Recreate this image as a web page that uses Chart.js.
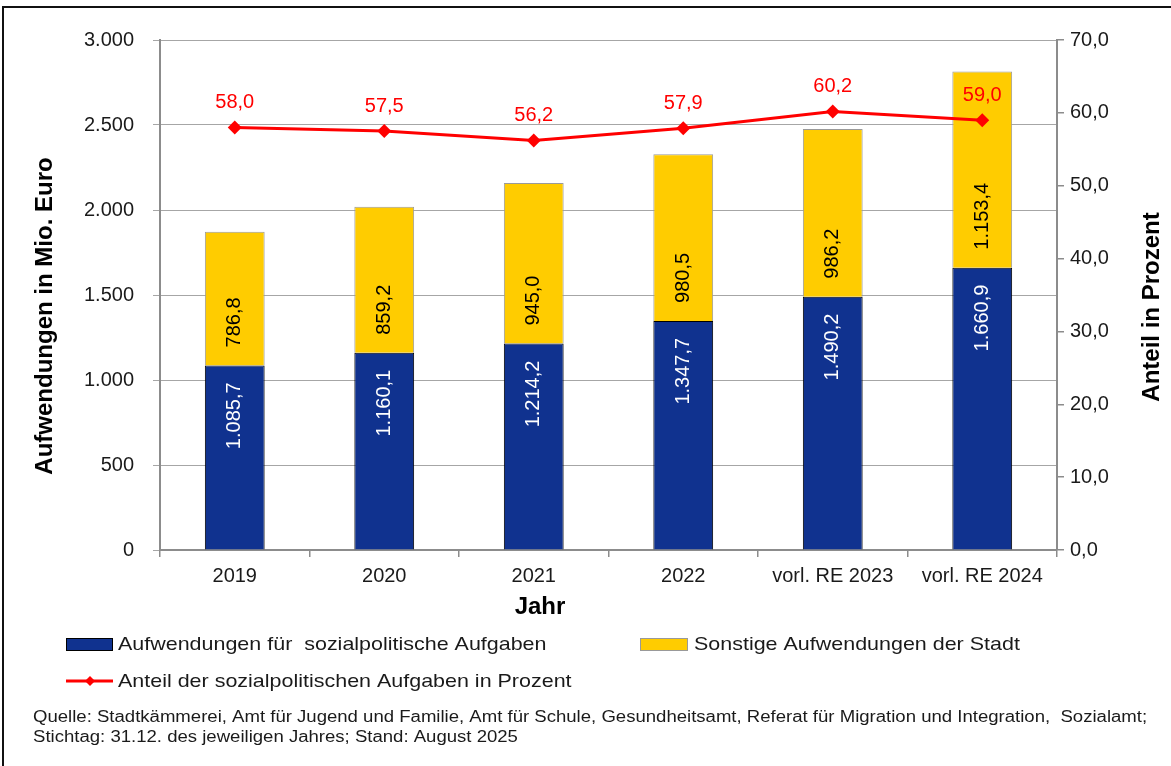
<!DOCTYPE html>
<html>
<head>
<meta charset="utf-8">
<script src="https://cdn.jsdelivr.net/npm/chart.js@4.4.1/dist/chart.umd.min.js"></script>
<style>
  html, body { margin: 0; padding: 0; background: #fff; }
  #wrap { width: 1171px; height: 766px; position: relative; }
  canvas { display: block; }
</style>
</head>
<body>
<div id="wrap"><canvas id="c" width="1171" height="766"></canvas></div>
<script>
const categories = ['2019', '2020', '2021', '2022', 'vorl. RE 2023', 'vorl. RE 2024'];
const sozialValues = [1085.7, 1160.1, 1214.2, 1347.7, 1490.2, 1660.9];
const sonstigeValues = [786.8, 859.2, 945.0, 980.5, 986.2, 1153.4];
const anteilValues = [58.0, 57.5, 56.2, 57.9, 60.2, 59.0];
const leftTicks = [0, 500, 1000, 1500, 2000, 2500, 3000];
const rightTicks = [0, 10, 20, 30, 40, 50, 60, 70];

const seriesNames = [
  'Aufwendungen für  sozialpolitische Aufgaben',
  'Sonstige Aufwendungen der Stadt',
  'Anteil der sozialpolitischen Aufgaben in Prozent'
];
const sourceLines = [
  'Quelle: Stadtkämmerei, Amt für Jugend und Familie, Amt für Schule, Gesundheitsamt, Referat für Migration und Integration,  Sozialamt;',
  'Stichtag: 31.12. des jeweiligen Jahres; Stand: August 2025'
];

const FONT = '"Liberation Sans", Arial, sans-serif';
const BLUE = '#10328F';
const YELLOW = '#FFCC00';
const RED = '#FF0000';
const TXT = '#1a1a1a';

function deNum(v, dec) {
  const neg = v < 0;
  let s = Math.abs(v).toFixed(dec);
  let [i, f] = s.split('.');
  i = i.replace(/\B(?=(\d{3})+(?!\d))/g, '.');
  return (neg ? '-' : '') + i + (f !== undefined ? ',' + f : '');
}

// draw text with horizontal stretch factor sx
function stretchText(ctx, str, x, y, font, sx, color) {
  ctx.save();
  ctx.font = font;
  ctx.fillStyle = color;
  ctx.textAlign = 'left';
  ctx.textBaseline = 'middle';
  ctx.translate(x, y);
  ctx.scale(sx, 1);
  ctx.fillText(str, 0, 0);
  ctx.restore();
}

const decorPlugin = {
  id: 'decor',
  beforeDraw(chart) {
    const ctx = chart.ctx;
    ctx.save();
    ctx.fillStyle = '#fff';
    ctx.fillRect(0, 0, chart.width, chart.height);
    ctx.restore();
  },
  afterDatasetsDraw(chart) {
    const ctx = chart.ctx;
    ctx.save();
    ctx.font = '20px ' + FONT;
    ctx.textBaseline = 'middle';
    const m0 = chart.getDatasetMeta(0);
    m0.data.forEach((bar, j) => {
      ctx.save();
      ctx.fillStyle = '#ffffff';
      ctx.translate(bar.x, bar.y + 17);
      ctx.rotate(-Math.PI / 2);
      ctx.textAlign = 'right';
      ctx.fillText(deNum(sozialValues[j], 1), 0, 0);
      ctx.restore();
    });
    const m1 = chart.getDatasetMeta(1);
    m1.data.forEach((bar, j) => {
      ctx.save();
      ctx.fillStyle = '#000000';
      ctx.translate(bar.x, bar.base - 18);
      ctx.rotate(-Math.PI / 2);
      ctx.textAlign = 'left';
      ctx.fillText(deNum(sonstigeValues[j], 1), 0, 0);
      ctx.restore();
    });
    ctx.restore();
  },
  afterDraw(chart) {
    const ctx = chart.ctx;
    ctx.save();
    const m2 = chart.getDatasetMeta(2);
    ctx.font = '20px ' + FONT;
    ctx.fillStyle = RED;
    ctx.textAlign = 'center';
    ctx.textBaseline = 'middle';
    m2.data.forEach((pt, j) => {
      ctx.fillText(deNum(anteilValues[j], 1), pt.x, pt.y - 25);
    });
    ctx.restore();

    // axis titles
    ctx.save();
    ctx.fillStyle = '#000';
    ctx.font = 'bold 24px ' + FONT;
    ctx.textAlign = 'center';
    ctx.textBaseline = 'middle';
    ctx.save();
    ctx.translate(45, 316);
    ctx.rotate(-Math.PI / 2);
    ctx.fillText('Aufwendungen in Mio. Euro', 0, 0);
    ctx.restore();
    ctx.save();
    ctx.translate(1152, 307);
    ctx.rotate(-Math.PI / 2);
    ctx.fillText('Anteil in Prozent', 0, 0);
    ctx.restore();
    ctx.fillText('Jahr', 540, 607);
    ctx.restore();

    // legend
    ctx.save();
    ctx.fillStyle = BLUE;
    ctx.fillRect(66, 638, 47, 13);
    ctx.strokeStyle = '#000';
    ctx.lineWidth = 1;
    ctx.strokeRect(66.5, 638.5, 46, 12);
    ctx.fillStyle = YELLOW;
    ctx.fillRect(640, 638, 48, 13);
    ctx.strokeStyle = '#999';
    ctx.strokeRect(640.5, 638.5, 47, 12);
    ctx.strokeStyle = RED;
    ctx.lineWidth = 3;
    ctx.beginPath();
    ctx.moveTo(66, 681);
    ctx.lineTo(113, 681);
    ctx.stroke();
    ctx.fillStyle = RED;
    ctx.beginPath();
    ctx.moveTo(90, 676); ctx.lineTo(95, 681); ctx.lineTo(90, 686); ctx.lineTo(85, 681);
    ctx.closePath();
    ctx.fill();
    ctx.restore();
    const lf = '19px ' + FONT;
    stretchText(ctx, seriesNames[0], 118, 645, lf, 1.13, TXT);
    stretchText(ctx, seriesNames[1], 694, 645, lf, 1.13, TXT);
    stretchText(ctx, seriesNames[2], 118, 682, lf, 1.13, TXT);
    // source
    const sf = '16px ' + FONT;
    stretchText(ctx, sourceLines[0], 33, 718, sf, 1.16, TXT);
    stretchText(ctx, sourceLines[1], 33, 738, sf, 1.16, TXT);

    // frame
    ctx.save();
    ctx.strokeStyle = '#111';
    ctx.lineWidth = 2;
    ctx.beginPath();
    ctx.moveTo(3, 766);
    ctx.lineTo(3, 7);
    ctx.lineTo(1171, 7);
    ctx.stroke();
    ctx.restore();
  }
};

const ctx = document.getElementById('c').getContext('2d');
new Chart(ctx, {
  type: 'bar',
  data: {
    labels: categories,
    datasets: [
      {
        label: seriesNames[0],
        data: sozialValues,
        backgroundColor: BLUE,
        borderColor: '#000000',
        borderWidth: 1,
        yAxisID: 'y',
        stack: 's',
        order: 2,
        barPercentage: 0.4,
        categoryPercentage: 1.0
      },
      {
        label: seriesNames[1],
        data: sonstigeValues,
        backgroundColor: YELLOW,
        borderColor: '#9a9a9a',
        borderWidth: 1,
        yAxisID: 'y',
        stack: 's',
        order: 2,
        barPercentage: 0.4,
        categoryPercentage: 1.0
      },
      {
        type: 'line',
        label: seriesNames[2],
        data: anteilValues,
        borderColor: RED,
        backgroundColor: RED,
        borderWidth: 3,
        pointStyle: 'rectRot',
        pointRadius: 7,
        pointHoverRadius: 7,
        pointBorderWidth: 0,
        yAxisID: 'y1',
        order: 1,
        tension: 0
      }
    ]
  },
  options: {
    responsive: false,
    animation: false,
    devicePixelRatio: 1,
    events: [],
    layout: { padding: { top: 40, left: 0, right: 0, bottom: 0 } },
    plugins: {
      legend: { display: false },
      title: { display: false },
      tooltip: { enabled: false }
    },
    scales: {
      x: {
        stacked: true,
        offset: true,
        grid: {
          offset: true,
          drawOnChartArea: false,
          drawTicks: true,
          tickLength: 7,
          color: '#8c8c8c',
          lineWidth: 1.5
        },
        border: { display: true, color: '#8c8c8c', width: 2 },
        ticks: {
          color: TXT,
          font: { family: FONT, size: 20 },
          padding: 7,
          maxRotation: 0,
          autoSkip: false
        },
        afterFit(scale) { scale.height = 216; }
      },
      y: {
        stacked: true,
        position: 'left',
        min: 0,
        max: 3000,
        afterBuildTicks(scale) { scale.ticks = leftTicks.map(v => ({ value: v })); },
        grid: {
          drawOnChartArea: true,
          drawTicks: true,
          tickLength: 7,
          color: '#a6a6a6',
          lineWidth: 1
        },
        border: { display: true, color: '#8c8c8c', width: 2 },
        ticks: {
          color: TXT,
          font: { family: FONT, size: 20 },
          padding: 19,
          callback: (v) => deNum(v, 0)
        },
        afterFit(scale) { scale.width = 160; }
      },
      y1: {
        position: 'right',
        min: 0,
        max: 70,
        afterBuildTicks(scale) { scale.ticks = rightTicks.map(v => ({ value: v })); },
        grid: {
          drawOnChartArea: false,
          drawTicks: true,
          tickLength: 7,
          color: '#8c8c8c',
          lineWidth: 1.5
        },
        border: { display: true, color: '#8c8c8c', width: 2 },
        ticks: {
          color: TXT,
          font: { family: FONT, size: 20 },
          padding: 6,
          callback: (v) => deNum(v, 1)
        },
        afterFit(scale) { scale.width = 114; }
      }
    }
  },
  plugins: [decorPlugin]
});
</script>
</body>
</html>
